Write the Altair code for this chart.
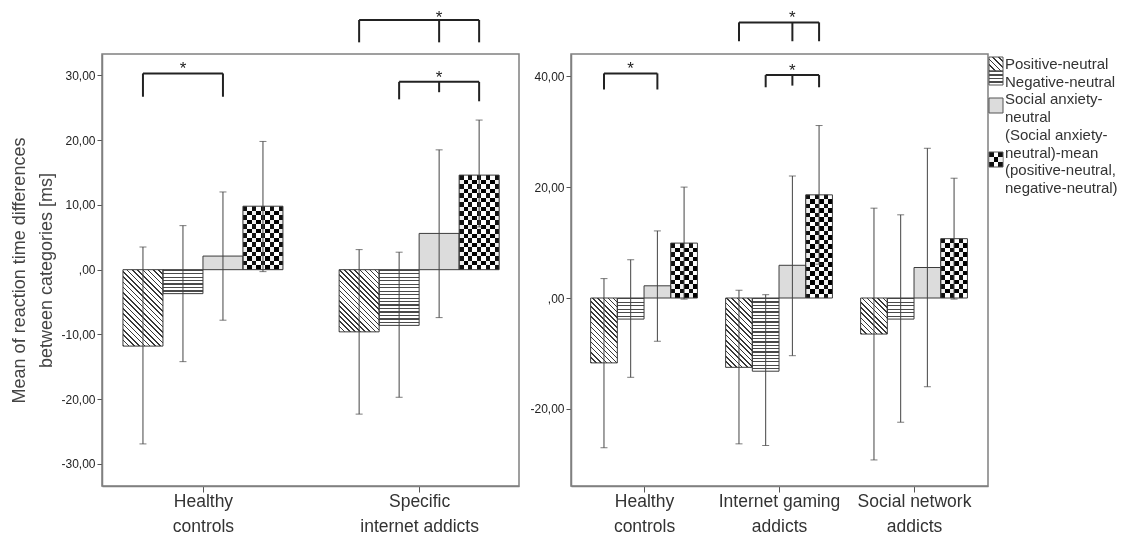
import json
import altair as alt
import pandas as pd

FONT = "Liberation Sans"

SERIES = [
    "Positive-neutral",
    "Negative-neutral",
    "Social anxiety-neutral",
    "(Social anxiety-neutral)-mean (positive-neutral, negative-neutral)",
]

# ---- left panel: healthy controls vs specific internet addicts ----
L_GROUPS = ["Healthy\ncontrols", "Specific\ninternet addicts"]
L_MEAN = [[-11.8, -3.7, 2.1, 9.8], [-9.6, -8.6, 5.6, 14.6]]
L_UP = [[3.5, 6.8, 12.0, 19.8], [3.1, 2.7, 18.5, 23.1]]
L_LO = [[-26.9, -14.2, -7.8, -0.3], [-22.3, -19.7, -7.4, 6.6]]
L_YTICKS = [-30, -20, -10, 0, 10, 20, 30]

# ---- right panel: healthy controls vs gaming vs social network ----
R_GROUPS = ["Healthy\ncontrols", "Internet gaming\naddicts", "Social network\naddicts"]
R_MEAN = [[-11.7, -3.8, 2.2, 9.9], [-12.5, -13.2, 5.9, 18.6], [-6.5, -3.8, 5.5, 10.7]]
R_UP = [[3.5, 6.9, 12.1, 20.0], [1.4, 0.6, 22.0, 31.1], [16.2, 15.0, 27.0, 21.6]]
R_LO = [[-27.0, -14.3, -7.8, -0.2], [-26.3, -26.6, -10.4, 6.1], [-29.2, -22.4, -16.0, -0.2]]
R_YTICKS = [-20, 0, 20, 40]

# significance brackets: (group, series legs, top, leg bottoms, star offset px)
L_BRACKETS = [
    (0, [0, 2], 30.3, [26.7, 26.7], 1),
    (1, [1, 2, 3], 29.0, [26.3, 27.4, 26.0], 1),
    (1, [0, 2, 3], 38.55, [35.1, 35.1, 35.1], 3),
]
R_BRACKETS = [
    (0, [0, 2], 40.5, [37.6, 37.6], 1),
    (1, [1, 2, 3], 40.2, [38.0, 38.3, 38.0], 1),
    (1, [0, 2, 3], 49.7, [46.3, 46.3, 46.3], 1),
]

LEGEND_LINES = [["Positive-neutral"], ["Negative-neutral"],
                ["Social anxiety-", "neutral"],
                ["(Social anxiety-", "neutral)-mean", "(positive-neutral,", "negative-neutral)"]]

PLOT_H = 432
PLOT_W = 417


def stripes(n, frac, line, bg):
    stops = []
    for i in range(n):
        a, b, c = i / n, (i + frac) / n, (i + 1) / n
        stops += [{"offset": a, "color": line}, {"offset": b, "color": line},
                  {"offset": b, "color": bg}, {"offset": c, "color": bg}]
    return stops


def cells(m, c1, c2):
    stops = []
    for j in range(m):
        col = c1 if j % 2 == 0 else c2
        stops += [{"offset": j / m, "color": col}, {"offset": (j + 1) / m, "color": col}]
    return stops


def pattern(s, w, h):
    h = max(h, 1.0)
    if s == 0:
        k = (w + h) / (w * w + h * h)
        n = max(1, round((w + h) / 5.2))
        return {"gradient": "linear", "x1": 0, "y1": 1, "x2": k * w, "y2": 1 - k * h,
                "stops": stripes(n, 0.3, "#383838", "#ffffff")}, None
    if s == 1:
        n = max(1, round(h / 3.4))
        return {"gradient": "linear", "x1": 0, "y1": 0, "x2": 0, "y2": 1,
                "stops": stripes(n, 0.38, "#4a4a4a", "#ffffff")}, None
    if s == 2:
        return "#dcdcdc", None
    mw = max(1, round(w / 4.45))
    mh = max(1, round(h / 4.45))
    base = {"gradient": "linear", "x1": 0, "y1": 0, "x2": 1, "y2": 0,
            "stops": cells(mw, "#111111", "#ffffff")}
    over = {"gradient": "linear", "x1": 0, "y1": 0, "x2": 0, "y2": 1,
            "stops": cells(mh, "#000000", "#ffffff")}
    return base, over


def panel(groups, means, ups, lows, xdom, ydom, barpx, yticks, brackets, ytitle, legend):
    upx = PLOT_W / (xdom[1] - xdom[0])
    ppu = PLOT_H / (ydom[1] - ydom[0])
    rows = []
    for gi in range(len(groups)):
        for si in range(4):
            xc = gi + (si - 1.5) * barpx / upx
            rows.append(dict(g=gi, s=si, series=SERIES[si], xc=xc,
                             x0=xc - barpx / 2 / upx, x1=xc + barpx / 2 / upx,
                             mean=means[gi][si], up=ups[gi][si], lo=lows[gi][si], base=0.0))
    xs = alt.Scale(domain=xdom, nice=False, zero=False)
    ys = alt.Scale(domain=ydom, nice=False, zero=False)
    lab = json.dumps([g.split("\n") for g in groups])
    xaxis = alt.Axis(values=list(range(len(groups))), labelExpr=f"{lab}[datum.value]",
                     grid=False, tickSize=6, labelPadding=0, labelFontSize=17.5,
                     labelLineHeight=25, labelColor="#333", labelFont=FONT, labelFlush=False)
    yaxis = alt.Axis(values=yticks, grid=False, tickSize=5, labelPadding=2,
                     labelExpr="datum.value == 0 ? ',00' : (datum.value < 0 ? '-' : '') + replace(format(abs(datum.value), '.2f'), '.', ',')",
                     labelFontSize=12, labelColor="#222", labelFont=FONT,
                     titleFontSize=18, titleFont=FONT, titleColor="#444",
                     titleFontWeight="normal", titleLineHeight=27, titlePadding=5)

    def X(f):
        return alt.X(f, type="quantitative", scale=xs, axis=xaxis, title=None)

    def Y(f):
        return alt.Y(f, type="quantitative", scale=ys, axis=yaxis, title=ytitle)

    layers = []
    for r in rows:
        d = pd.DataFrame([r])
        fill, over = pattern(r["s"], barpx, abs(r["mean"]) * ppu)
        layers.append(alt.Chart(d).mark_rect(fill=fill).encode(
            x=X("x0"), x2="x1", y=Y("mean"), y2="base"))
        if over is not None:
            layers.append(alt.Chart(d).mark_rect(fill=over, blend="difference").encode(
                x=X("x0"), x2="x1", y=Y("mean"), y2="base"))
    df = pd.DataFrame(rows)
    layers.append(alt.Chart(df).mark_rect(fillOpacity=0, stroke="#3c3c3c", strokeWidth=1).encode(
        x=X("x0"), x2="x1", y=Y("mean"), y2="base"))
    layers.append(alt.Chart(df).mark_rule(color="#444", strokeWidth=1).encode(
        x=X("xc"), y=Y("lo"), y2="up"))
    for f in ("up", "lo"):
        layers.append(alt.Chart(df).mark_tick(orient="horizontal", size=7, thickness=1, color="#444").encode(
            x=X("xc"), y=Y(f)))

    # brackets
    hrows, vrows = [], []
    for gi, legs, top, bots, sdy in brackets:
        xl = [gi + (si - 1.5) * barpx / upx for si in legs]
        hrows.append(dict(a=xl[0], b=xl[-1], t=top))
        for xv, bt in zip(xl, bots):
            vrows.append(dict(a=xv, t=top, bt=bt))
        sx = (xl[0] + xl[-1]) / 2 if len(xl) == 2 else xl[1]
        layers.append(alt.Chart(pd.DataFrame([dict(a=sx, t=top, star="*")])).mark_text(
            fontSize=17, font=FONT, color="#222", baseline="alphabetic", dy=sdy).encode(
            x=X("a"), y=Y("t"), text="star:N"))
    layers.append(alt.Chart(pd.DataFrame(hrows)).mark_rule(color="#222", strokeWidth=2).encode(
        x=X("a"), x2="b", y=Y("t")))
    layers.append(alt.Chart(pd.DataFrame(vrows)).mark_rule(color="#222", strokeWidth=2).encode(
        x=X("a"), y=Y("bt"), y2="t"))

    if legend:
        one = pd.DataFrame({"k": [0]})
        lx0, lx1, tx = PLOT_W + 1, PLOT_W + 15, PLOT_W + 17
        line_h = 17.7
        boxes = [(3, 17), (17, 31), (44, 59), (98, 113)]
        li = 0
        for si, lines in enumerate(LEGEND_LINES):
            y0, y1 = boxes[si]
            fill, over = pattern(si, 14, 14)
            layers.append(alt.Chart(one).mark_rect(fill=fill, stroke="#555", strokeWidth=1).encode(
                x=alt.value(lx0), x2=alt.value(lx1), y=alt.value(y0), y2=alt.value(y1)))
            if over is not None:
                layers.append(alt.Chart(one).mark_rect(fill=over, blend="difference").encode(
                    x=alt.value(lx0), x2=alt.value(lx1), y=alt.value(y0), y2=alt.value(y1)))
            for t in lines:
                layers.append(alt.Chart(one).mark_text(text=t, align="left", baseline="middle",
                                                      fontSize=15, font=FONT, color="#333").encode(
                    x=alt.value(tx), y=alt.value(10 + li * line_h)))
                li += 1

    return alt.layer(*layers).properties(width=PLOT_W, height=PLOT_H)


left = panel(L_GROUPS, L_MEAN, L_UP, L_LO, [-0.467, 1.462], [-33.4, 33.3], 40, L_YTICKS,
             L_BRACKETS, ["Mean of reaction time differences", "between categories [ms]"], False)
right = panel(R_GROUPS, R_MEAN, R_UP, R_LO, [-0.541, 2.548], [-33.9, 44.0], 26.7, R_YTICKS,
              R_BRACKETS, None, True)

chart = alt.hconcat(left, right, spacing=52, bounds="flush").properties(
    padding={"left": 2, "top": 0, "right": 0, "bottom": 0}
).configure_view(stroke="#808080", strokeWidth=1.5).configure_axis(
    domainColor="#808080", domainWidth=1.5, tickColor="#555", tickWidth=1
)

chart.save("out.html", embed_options={"renderer": "svg", "actions": False})
